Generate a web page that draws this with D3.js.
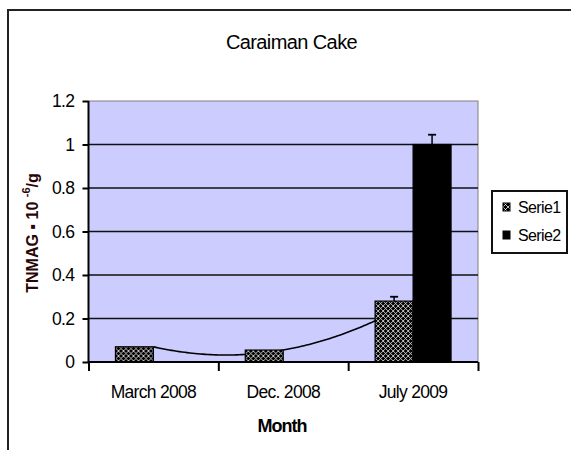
<!DOCTYPE html>
<html lang="en">
<head>
<meta charset="UTF-8">
<title>Caraiman Cake</title>
<script src="https://d3js.org/d3.v7.min.js"></script>
<style>
    body { margin: 0; background: #fff; }
    svg { display: block; font-family: "Liberation Sans", Arial, sans-serif; }
</style>
</head>
<body>
<svg id="chart" width="571" height="450"></svg>
<script>
    const months = ["March 2008", "Dec. 2008", "July 2009"];
    const seriesNames = ["Serie1", "Serie2"];
    const serie1 = [0.07, 0.055, 0.28];
    const serie2 = [0, 0, 1.0];
    const serie1Err = [0, 0, 0.02];
    const serie2Err = [0, 0, 0.045];
    const yTicks = [0, 0.2, 0.4, 0.6, 0.8, 1, 1.2];

    const svg = d3.select("#chart");
    const margin = {top: 101, left: 88.5};
    const width = 389.5, height = 261;

    // hatch pattern for Serie1
    const defs = svg.append("defs");
    const pat = defs.append("pattern")
        .attr("id", "hatch")
        .attr("patternUnits", "userSpaceOnUse")
        .attr("width", 5).attr("height", 5);
    pat.append("rect").attr("width", 5).attr("height", 5).attr("fill", "#000");
    pat.append("path")
        .attr("d", "M0,0 L5,5 M5,0 L0,5")
        .attr("stroke", "#fff").attr("stroke-width", 0.75);

    // chart frame
    svg.append("rect")
        .attr("x", 8).attr("y", 10)
        .attr("width", 600).attr("height", 500)
        .attr("fill", "none").attr("stroke", "#222").attr("stroke-width", 2);

    svg.append("text")
        .attr("x", 291.5).attr("y", 42)
        .attr("text-anchor", "middle").attr("dy", "0.35em")
        .attr("font-size", 20).attr("letter-spacing", -0.6)
        .text("Caraiman Cake");

    const g = svg.append("g").attr("transform", `translate(${margin.left},${margin.top})`);

    const x0 = d3.scaleBand().domain(months).range([0, width]);
    const bw = x0.bandwidth();
    const x1 = d3.scaleBand().domain(seriesNames).range([bw * 0.2075, bw * 0.7925]);
    const y = d3.scaleLinear().domain([0, 1.2]).range([height, 0]);

    // plot background
    g.append("rect")
        .attr("width", width).attr("height", height)
        .attr("fill", "#ccccff").attr("stroke", "#808080").attr("stroke-width", 1);

    // gridlines
    g.append("g")
        .selectAll("line")
        .data(yTicks.filter(d => d > 0 && d < 1.2))
        .join("line")
        .attr("x1", 0).attr("x2", width)
        .attr("y1", d => y(d)).attr("y2", d => y(d))
        .attr("stroke", "#111").attr("stroke-width", 1.6);

    // polynomial trendline of Serie1 (order 2), drawn behind bars
    const lag = t => serie1[0] * (t - 1) * (t - 2) / 2
        - serie1[1] * t * (t - 2)
        + serie1[2] * t * (t - 1) / 2;
    const xi = d3.scaleLinear().domain([0, months.length - 1])
        .range([x0(months[0]) + bw / 2, x0(months[months.length - 1]) + bw / 2]);
    const trend = d3.range(0, 2.001, 0.02).map(t => [xi(t), y(lag(t))]);
    g.append("path")
        .datum(trend)
        .attr("fill", "none").attr("stroke", "#000").attr("stroke-width", 1.6)
        .attr("d", d3.line());

    // bars
    const rows = months.map((m, i) => ({
        month: m,
        values: [
            {key: "Serie1", value: serie1[i], err: serie1Err[i]},
            {key: "Serie2", value: serie2[i], err: serie2Err[i]}
        ]
    }));

    const groups = g.append("g")
        .selectAll("g")
        .data(rows)
        .join("g")
        .attr("transform", d => `translate(${x0(d.month)},0)`);

    groups.selectAll("rect")
        .data(d => d.values.filter(v => v.value > 0))
        .join("rect")
        .attr("x", d => x1(d.key))
        .attr("width", x1.bandwidth())
        .attr("y", d => y(d.value))
        .attr("height", d => y(0) - y(d.value))
        .attr("fill", d => d.key === "Serie1" ? "url(#hatch)" : "#000")
        .attr("stroke", "#000").attr("stroke-width", 1.2);

    // error bars (plus only)
    const errs = groups.selectAll("g.err")
        .data(d => d.values.filter(v => v.err > 0))
        .join("g").attr("class", "err");
    errs.append("line")
        .attr("x1", d => x1(d.key) + x1.bandwidth() / 2)
        .attr("x2", d => x1(d.key) + x1.bandwidth() / 2)
        .attr("y1", d => y(d.value))
        .attr("y2", d => y(d.value + d.err))
        .attr("stroke", "#000").attr("stroke-width", 1.5);
    errs.append("line")
        .attr("x1", d => x1(d.key) + x1.bandwidth() / 2 - 4)
        .attr("x2", d => x1(d.key) + x1.bandwidth() / 2 + 4)
        .attr("y1", d => y(d.value + d.err))
        .attr("y2", d => y(d.value + d.err))
        .attr("stroke", "#000").attr("stroke-width", 1.8);

    // axes
    const yAxis = g.append("g")
        .call(d3.axisLeft(y).tickValues(yTicks).tickSize(6).tickPadding(8).tickFormat(d => d));
    const xAxis = g.append("g")
        .attr("transform", `translate(0,${height})`)
        .call(d3.axisBottom(d3.scaleLinear().domain([0, 3]).range([0, width]))
            .ticks(3).tickSize(9).tickFormat(""));
    [yAxis, xAxis].forEach(a => {
        a.select(".domain").attr("stroke", "#000").attr("stroke-width", 2);
        a.selectAll(".tick line").attr("stroke", "#000").attr("stroke-width", 2);
    });
    yAxis.select(".domain").attr("d", `M0,0V${height}`);
    xAxis.select(".domain").attr("d", `M0,0H${width}`);
    yAxis.selectAll(".tick text")
        .attr("font-family", "Liberation Sans, Arial, sans-serif")
        .attr("font-size", 17.5).attr("letter-spacing", -0.6).attr("fill", "#000");

    g.append("g")
        .selectAll("text")
        .data(months)
        .join("text")
        .attr("x", d => x0(d) + bw / 2)
        .attr("y", height + 30)
        .attr("text-anchor", "middle").attr("dy", "0.35em")
        .attr("font-size", 17.5).attr("letter-spacing", -0.7)
        .text(d => d);

    svg.append("text")
        .attr("x", 282).attr("y", 426)
        .attr("text-anchor", "middle").attr("dy", "0.35em")
        .attr("font-size", 18).attr("font-weight", "bold").attr("letter-spacing", -1)
        .text("Month");

    const yTitle = svg.append("text")
        .attr("transform", "translate(32,233) rotate(-90)")
        .attr("text-anchor", "middle").attr("dy", "0.35em")
        .attr("font-size", 16).attr("font-weight", "bold").attr("fill", "#2a0505");
    yTitle.append("tspan").text("TNMAG  \u25AA  10 ");
    yTitle.append("tspan").attr("font-size", 11).attr("dy", "-0.7em").text("-6");
    yTitle.append("tspan").attr("dy", "0.5em").text("/g");

    // legend
    const legend = svg.append("g").attr("transform", "translate(492,191)");
    legend.append("rect")
        .attr("width", 75).attr("height", 62)
        .attr("fill", "#fff").attr("stroke", "#111").attr("stroke-width", 2);
    const items = legend.selectAll("g.item")
        .data(seriesNames)
        .join("g").attr("class", "item")
        .attr("transform", (d, i) => `translate(11,${16 + i * 28})`);
    items.append("rect")
        .attr("width", 7).attr("height", 8).attr("y", -4)
        .attr("fill", d => d === "Serie1" ? "url(#hatch)" : "#000")
        .attr("stroke", "#000").attr("stroke-width", 1);
    items.append("text")
        .attr("x", 15).attr("dy", "0.35em")
        .attr("font-size", 16).attr("letter-spacing", -0.6)
        .text(d => d);
</script>
</body>
</html>
